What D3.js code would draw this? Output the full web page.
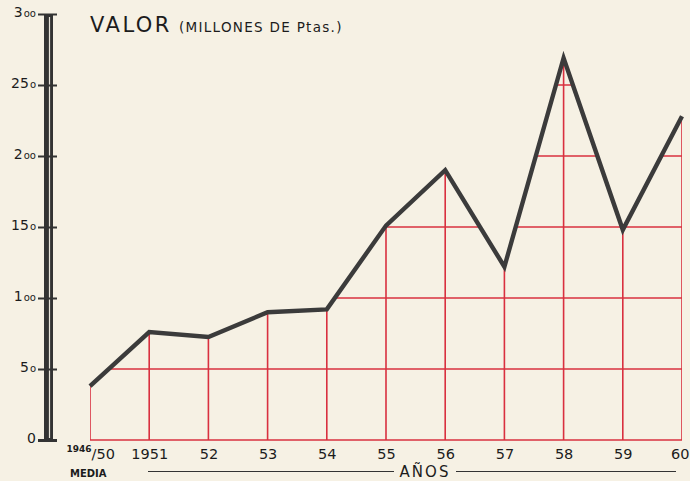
<!DOCTYPE html>
<html><head><meta charset="utf-8">
<script src="https://cdn.jsdelivr.net/npm/d3@7"></script>
<style>
html,body{margin:0;padding:0;background:#f6f1e4;}
svg{display:block;}
</style></head>
<body>
<svg id="chart" width="690" height="481"></svg>
<script>
const categories = ["1946/50","1951","52","53","54","55","56","57","58","59","60"];
const values = [38, 76, 72.5, 90, 92, 151, 190, 122, 269, 148, 228];
const yTicks = [0, 50, 100, 150, 200, 250, 300];
const yTickLabels = [["0",""],["5","o"],["1","oo"],["15","o"],["2","oo"],["25","o"],["3","oo"]];
const titleMain = "VALOR";
const titleSub = "(MILLONES DE Ptas.)";
const xTitle = "AÑOS";

const svg = d3.select("#chart");
const W = 690, H = 481;
svg.append("rect").attr("width", W).attr("height", H).attr("fill", "#f6f1e4");

const x = d3.scalePoint().domain(categories).range([90, 682]);
const y = d3.scaleLinear().domain([0, 300]).range([440, 14]);
const data = categories.map((c, i) => ({c, v: values[i]}));

// clip to area under the line
const area = d3.area().x(d => x(d.c)).y0(y(0) + 2).y1(d => y(d.v));
svg.append("clipPath").attr("id", "under").append("path").attr("d", area(data));

const grid = svg.append("g").attr("clip-path", "url(#under)")
  .attr("stroke", "#d9303f").attr("stroke-width", 1.6).attr("fill", "none");
grid.selectAll("line.h").data(yTicks.slice(0, -1)).join("line")
  .attr("x1", x(categories[0])).attr("x2", x(categories[categories.length - 1]))
  .attr("y1", d => y(d)).attr("y2", d => y(d));
grid.selectAll("line.v").data(categories).join("line")
  .attr("x1", d => x(d)).attr("x2", d => x(d))
  .attr("y1", y(0)).attr("y2", y(300));

// main line
svg.append("path").datum(data)
  .attr("d", d3.line().x(d => x(d.c)).y(d => y(d.v)))
  .attr("fill", "none").attr("stroke", "#3b3b3b").attr("stroke-width", 4.4)
  .attr("stroke-linejoin", "miter").attr("stroke-linecap", "butt");

// y axis: thick double bar
const yAxisG = svg.append("g");
yAxisG.append("rect").attr("x", 44).attr("y", y(300)).attr("width", 9).attr("height", y(0) - y(300))
  .attr("fill", "#333");
yAxisG.append("line").attr("x1", 49.5).attr("x2", 49.5).attr("y1", y(300) + 3).attr("y2", y(0) - 2)
  .attr("stroke", "#e8e4da").attr("stroke-width", 1.2);

const axisL = d3.axisLeft(y).tickValues(yTicks).tickSize(0).tickPadding(0).tickFormat("");
const ag = svg.append("g").attr("transform", "translate(56,0)").call(axisL);
ag.select(".domain").remove();
ag.selectAll(".tick").append("line")
  .attr("x1", -18).attr("x2", 1).attr("y1", 0).attr("y2", 0)
  .attr("stroke", "#333").attr("stroke-width", d => d === 0 ? 3 : 2);
ag.selectAll(".tick text").remove();
ag.selectAll(".tick").append("text")
  .attr("x", -20).attr("y", 2).attr("text-anchor", "end")
  .attr("font-family", "DejaVu Sans, sans-serif").attr("fill", "#1c1c1c")
  .each(function(d) {
    const lab = yTickLabels[yTicks.indexOf(d)];
    const t = d3.select(this);
    t.append("tspan").attr("font-size", 14).text(lab[0]);
    if (lab[1]) t.append("tspan").attr("font-size", 10).attr("dx", 1).text(lab[1]);
  });

// x axis labels
const axisB = d3.axisBottom(x).tickSize(0).tickPadding(0).tickFormat("");
const bg = svg.append("g").attr("transform", `translate(0,${y(0)})`).call(axisB);
bg.select(".domain").remove();
bg.selectAll(".tick text").remove();
const nCat = categories.length;
bg.selectAll(".tick").append("text")
  .attr("y", 19).attr("text-anchor", "middle")
  .attr("font-family", "DejaVu Sans, sans-serif").attr("font-size", 14.5).attr("fill", "#1c1c1c")
  .each(function(d, i) {
    const t = d3.select(this);
    if (i === 0) {
      const parts = d.split("/");
      t.attr("text-anchor", "start").attr("x", -24);
      t.append("tspan").attr("font-size", 9).attr("font-weight", "bold").attr("dy", -7).text(parts[0]);
      t.append("tspan").attr("dy", 7).text("/" + parts[1]);
    } else if (i === nCat - 1) {
      t.attr("text-anchor", "end").attr("x", W - 1 - x(d)).text(d);
    } else {
      t.text(d);
    }
  });

svg.append("text").attr("x", 70).attr("y", 477)
  .attr("font-family", "DejaVu Sans, sans-serif").attr("font-size", 10).attr("font-weight", "bold")
  .attr("fill", "#1c1c1c").text("MEDIA");

// x title with rules
svg.append("line").attr("x1", 148).attr("x2", 394).attr("y1", 471.5).attr("y2", 471.5)
  .attr("stroke", "#333").attr("stroke-width", 1.2);
svg.append("line").attr("x1", 456).attr("x2", 676).attr("y1", 471.5).attr("y2", 471.5)
  .attr("stroke", "#333").attr("stroke-width", 1.2);
svg.append("text").attr("x", 425).attr("y", 477).attr("text-anchor", "middle")
  .attr("font-family", "DejaVu Sans, sans-serif").attr("font-size", 15).attr("letter-spacing", 2)
  .attr("fill", "#1c1c1c").text(xTitle);

// title
const tt = svg.append("text").attr("x", 90).attr("y", 32)
  .attr("font-family", "DejaVu Sans, sans-serif").attr("fill", "#1c1c1c");
tt.append("tspan").attr("font-size", 21).attr("letter-spacing", 2.5).text(titleMain);
tt.append("tspan").attr("font-size", 13.5).attr("dx", 7).attr("letter-spacing", 1.3).text(titleSub);
</script>
</body></html>
